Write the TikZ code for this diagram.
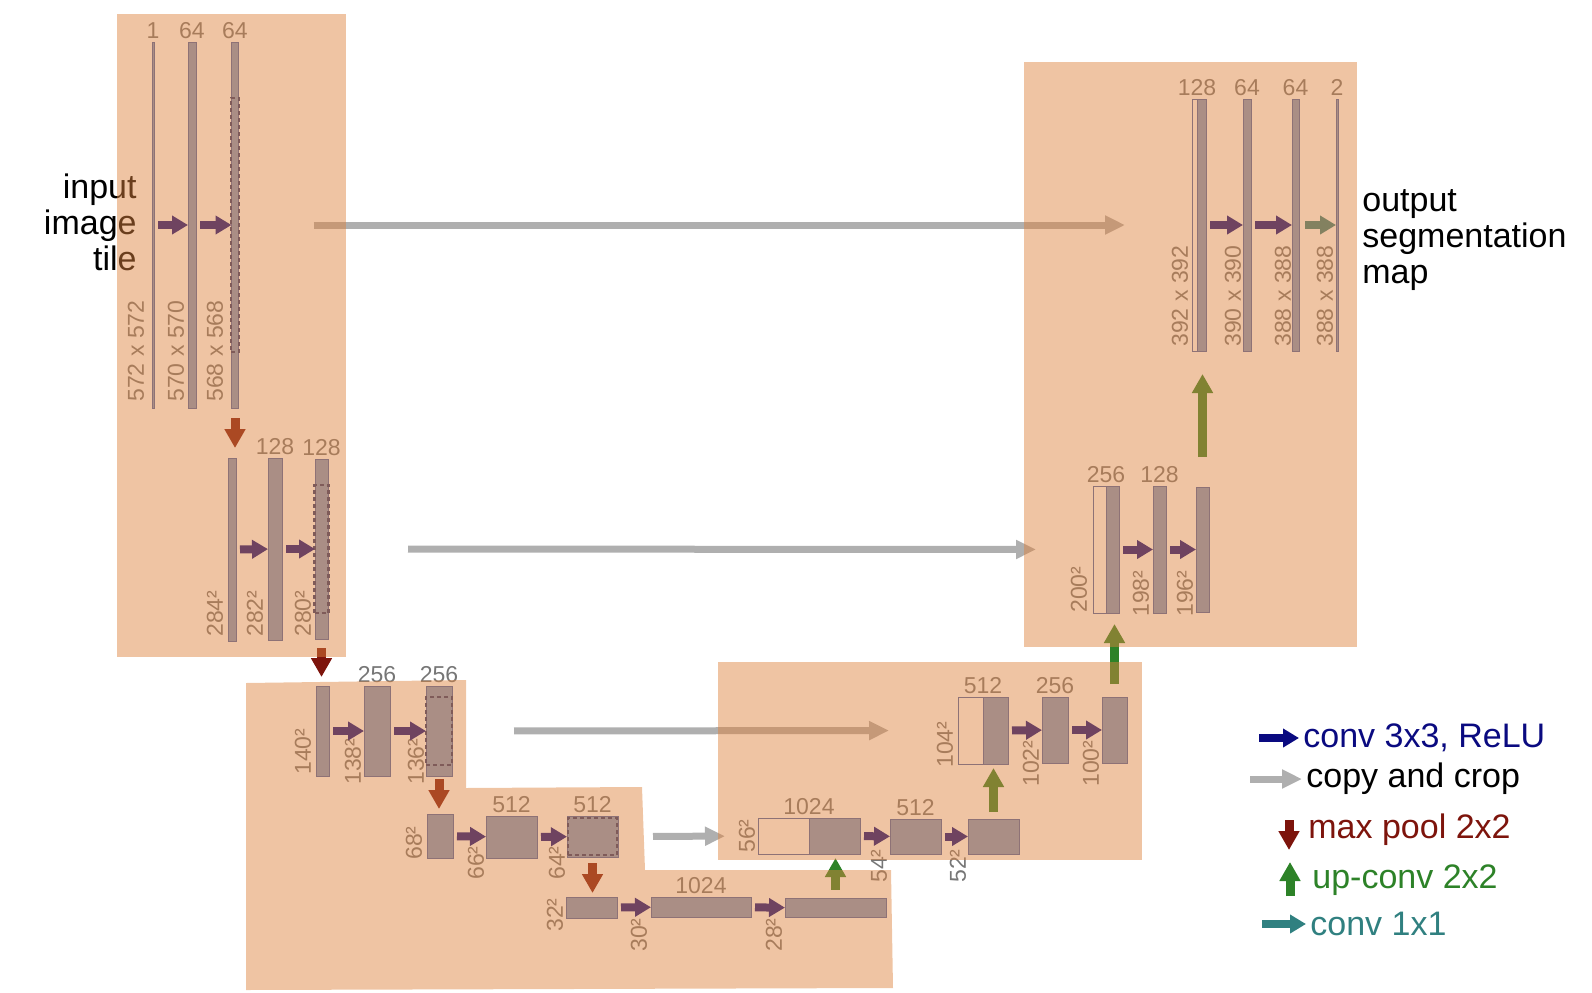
\documentclass[tikz,border=0pt]{standalone}
\usepackage{fontspec}
\setmainfont{Liberation Sans}
\usetikzlibrary{arrows.meta,positioning,calc}

\definecolor{fmapfill}{RGB}{123,154,199}
\definecolor{fmapline}{RGB}{70,100,170}
\definecolor{dashline}{RGB}{40,55,115}
\definecolor{convblue}{RGB}{10,10,128}
\definecolor{copygray}{RGB}{175,175,175}
\definecolor{poolred}{RGB}{125,20,12}
\definecolor{upgreen}{RGB}{45,130,40}
\definecolor{outteal}{RGB}{48,128,128}
\definecolor{numgray}{RGB}{118,118,118}
\definecolor{blocktint}{RGB}{222,131,62}

\begin{document}
\begin{tikzpicture}[x=0.5pt, y=-0.5pt,
    sz/.style 2 args={minimum width=#1*0.5pt, minimum height=#2*0.5pt},
    fmap/.style={draw=fmapline, fill=fmapfill, line width=0.5pt, inner sep=0pt, outer sep=0pt},
    cropbox/.style={draw=fmapline, fill=white, line width=0.5pt, inner sep=0pt, outer sep=0pt},
    dashbox/.style={draw=dashline, dash pattern=on 2pt off 1.5pt, line width=1.2pt, inner sep=0pt, outer sep=0pt},
    chan/.style={text=numgray, font=\fontsize{11.5pt}{13pt}\selectfont, inner sep=0pt},
    dimlbl/.style={chan, rotate=90, anchor=west},
    bigtxt/.style={font=\fontsize{17pt}{18pt}\selectfont, inner sep=0pt},
    legtxt/.style={bigtxt, anchor=west, inner sep=2pt},
    conv/.style={convblue, line width=4pt, -{Triangle[length=8pt, width=9pt]}, shorten <=2pt},
    copyarr/.style={copygray, line width=3.5pt, -{Triangle[length=10pt, width=9pt]}},
    pool/.style={poolred, line width=4.5pt, -{Triangle[length=9.5pt, width=10pt]}},
    upconv/.style={upgreen, line width=4.5pt, -{Triangle[length=9.5pt, width=10pt]}},
    onebyone/.style={outteal, line width=4pt, -{Triangle[length=8pt, width=9pt]}, shorten <=3pt},
    tint/.style={fill=blocktint, fill opacity=0.48},
]
    \useasboundingbox (0,0) rectangle (1592,992);

    % contracting path
    \node[fmap, sz={2}{366}] (in1) at (153,225) {};
    \node[fmap, sz={8}{366}] (c1a) at (192,225) {};
    \node[fmap, sz={7}{366}] (c1b) at (235,225) {};
    \node[dashbox, sz={8}{254}] (c1d) at (235,225) {};
    \node[chan, above=1.5pt of in1] (n1) {1};
    \node[chan, above=1.5pt of c1a] (n1a) {64};
    \node[chan, above=1.5pt of c1b] (n1b) {64};
    \node[dimlbl] (s1) at (136,402) {572 x 572};
    \node[dimlbl] (s1a) at (176,402) {570 x 570};
    \node[dimlbl] (s1b) at (215,402) {568 x 568};
    \node[bigtxt, align=right, anchor=east] (intile) at (137,222) {input\\image\\tile};
    \draw[conv] (in1) -- (c1a);
    \draw[conv] (c1a) -- (c1b);

    \node[fmap, sz={8}{183}] (c2in) at (232,549.5) {};
    \node[fmap, sz={14}{182}] (c2a) at (275,549) {};
    \node[fmap, sz={13}{180}] (c2b) at (321.5,549) {};
    \node[dashbox, sz={14}{128}] (c2d) at (321.5,549) {};
    \node[chan, above=1.5pt of c2a] (n2a) {128};
    \node[chan, above=1.5pt of c2b] (n2b) {128};
    \node[dimlbl] (s2) at (215,637) {284²};
    \node[dimlbl] (s2a) at (255,637) {282²};
    \node[dimlbl] (s2b) at (303,637) {280²};
    \draw[conv] (c2in) -- (c2a);
    \draw[conv] (c2a) -- (c2b);
    \draw[pool, shorten <=5pt, shorten >=5pt] (c1b.south) -- (c1b.south |- c2in.north);

    \node[fmap, sz={13}{90}] (c3in) at (322.5,731) {};
    \node[fmap, sz={26}{90}] (c3a) at (377,731) {};
    \node[fmap, sz={26}{90}] (c3b) at (439,731) {};
    \node[dashbox, sz={26}{68}] (c3d) at (439,731) {};
    \node[chan, above=1.5pt of c3a] (n3a) {256};
    \node[chan, above=1.5pt of c3b] (n3b) {256};
    \node[dimlbl] (s3) at (303,775) {140²};
    \node[dimlbl] (s3a) at (353,785) {138²};
    \node[dimlbl] (s3b) at (416,785) {136²};
    \draw[conv] (c3in) -- (c3a);
    \draw[conv] (c3a) -- (c3b);
    \draw[pool, shorten <=4.5pt, shorten >=4.5pt] (c2b.south) -- (c2b.south |- c3in.north);

    \node[fmap, sz={26}{44}] (c4in) at (440,836) {};
    \node[fmap, sz={51}{42}] (c4a) at (511.5,837) {};
    \node[fmap, sz={51}{41}] (c4b) at (592.5,836.5) {};
    \node[dashbox, sz={49}{37}] (c4d) at (592.5,836.5) {};
    \node[chan, above=1.5pt of c4a] (n4a) {512};
    \node[chan, above=1.5pt of c4b] (n4b) {512};
    \node[dimlbl] (s4) at (414,860) {68²};
    \node[dimlbl] (s4a) at (476,880) {66²};
    \node[dimlbl] (s4b) at (557,880) {64²};
    \draw[conv] (c4in) -- (c4a);
    \draw[conv] (c4a) -- (c4b);
    \draw[pool, shorten <=1.5pt, shorten >=2.5pt] (c3b.south) -- (c3b.south |- c4in.north);

    % bottom
    \node[fmap, sz={51}{21}] (c5in) at (591.5,907.5) {};
    \node[fmap, sz={100}{20}] (c5a) at (701,907) {};
    \node[fmap, sz={101}{19}] (c5b) at (835.5,908) {};
    \node[chan, above=1.5pt of c5a] (n5a) {1024};
    \node[dimlbl] (s5) at (555,932) {32²};
    \node[dimlbl] (s5a) at (639,952) {30²};
    \node[dimlbl] (s5b) at (774,952) {28²};
    \draw[conv] (c5in) -- (c5a);
    \draw[conv] (c5a) -- (c5b);
    \draw[pool, shorten <=3pt, shorten >=2pt] (c4b.south) -- (c4b.south |- c5in.north);

    % expansive path
    \node[cropbox, sz={51}{36}] (u4cp) at (783.5,836) {};
    \node[fmap, sz={51}{36}] (u4up) at (834.5,836) {};
    \node[fmap, sz={51}{35}] (u4a) at (915.5,836.5) {};
    \node[fmap, sz={51}{35}] (u4b) at (993.5,836.5) {};
    \node[chan, above=1.5pt of u4cp.north east] (m4) {1024};
    \node[chan, above=1.5pt of u4a] (m4a) {512};
    \node[dimlbl] (t4) at (747,853) {56²};
    \node[dimlbl] (t4a) at (879,883) {54²};
    \node[dimlbl] (t4b) at (958,883) {52²};
    \draw[conv] (u4up) -- (u4a);
    \draw[conv] (u4a) -- (u4b);
    \draw[upconv, shorten <=4.5pt, shorten >=2pt] (c5b.north) -- (c5b.north |- u4up.south);

    \node[cropbox, sz={25}{67}] (u3cp) at (970.5,730.5) {};
    \node[fmap, sz={25}{67}] (u3up) at (995.5,730.5) {};
    \node[fmap, sz={26}{66}] (u3a) at (1055,730) {};
    \node[fmap, sz={25}{66}] (u3b) at (1114.5,730) {};
    \node[chan, above=1.5pt of u3cp.north east] (m3) {512};
    \node[chan, above=1.5pt of u3a] (m3a) {256};
    \node[dimlbl] (t3) at (945,768) {104²};
    \node[dimlbl] (t3a) at (1031,787) {102²};
    \node[dimlbl] (t3b) at (1091,787) {100²};
    \draw[conv] (u3up) -- (u3a);
    \draw[conv] (u3a) -- (u3b);
    \draw[upconv, shorten <=3.5pt, shorten >=2pt] (u4b.north) -- (u4b.north |- u3up.south);

    \node[cropbox, sz={13}{127}] (u2cp) at (1099.5,549.5) {};
    \node[fmap, sz={13}{127}] (u2up) at (1112.5,549.5) {};
    \node[fmap, sz={13}{127}] (u2a) at (1159.5,549.5) {};
    \node[fmap, sz={13}{125}] (u2b) at (1202.5,549.5) {};
    \node[chan, above=1.5pt of u2cp.north east] (m2) {256};
    \node[chan, above=1.5pt of u2a] (m2a) {128};
    \node[dimlbl] (t2) at (1079,613) {200²};
    \node[dimlbl] (t2a) at (1141,617) {198²};
    \node[dimlbl] (t2b) at (1185,617) {196²};
    \draw[conv] (u2up) -- (u2a);
    \draw[conv] (u2a) -- (u2b);
    \draw[upconv, shorten <=6.5pt, shorten >=5.5pt] (u3b.north) -- (u3b.north |- u2up.south);

    \node[cropbox, sz={5}{252}] (u1cp) at (1194.5,225) {};
    \node[fmap, sz={9}{252}] (u1up) at (1201.5,225) {};
    \node[fmap, sz={8}{252}] (u1a) at (1247,225) {};
    \node[fmap, sz={7}{252}] (u1b) at (1295.5,225) {};
    \node[fmap, sz={2}{252}] (out1) at (1337,225) {};
    \node[chan, above=1.5pt of u1cp.north east] (m1) {128};
    \node[chan, above=1.5pt of u1a] (m1a) {64};
    \node[chan, above=1.5pt of u1b] (m1b) {64};
    \node[chan, above=1.5pt of out1] (m1o) {2};
    \node[dimlbl] (t1) at (1180,347) {392 x 392};
    \node[dimlbl] (t1a) at (1233,347) {390 x 390};
    \node[dimlbl] (t1b) at (1283,347) {388 x 388};
    \node[dimlbl] (t1o) at (1325,347) {388 x 388};
    \node[bigtxt, align=left, anchor=west] (outmap) at (1362,240) {output\\segmentation\\map};
    \draw[conv] (u1up) -- (u1a);
    \draw[conv] (u1a) -- (u1b);
    \draw[onebyone] (u1b) -- (out1);
    \draw[upconv, shorten <=15pt, shorten >=11.5pt] (u2b.north) -- (u2b.north |- u1up.south);

    % copy and crop
    \draw[copyarr, shorten <=37.5pt, shorten >=33.5pt] (c1b) -- (u1cp);
    \draw[copyarr, shorten <=40pt, shorten >=28.5pt] (c2b) -- (u2cp);
    \draw[copyarr, shorten <=31pt, shorten >=34.5pt] (c3b) -- (u3cp);
    \draw[copyarr, shorten <=17.5pt, shorten >=16.5pt] (c4b) -- (u4cp);

    % legend
    \node[legtxt, text=convblue] (lg1) at (1299,738) {conv 3x3, ReLU};
    \node[legtxt, text=black] (lg2) at (1302,779) {copy and crop};
    \node[legtxt, text=poolred] (lg3) at (1304,830) {max pool 2x2};
    \node[legtxt, text=upgreen] (lg4) at (1308,880) {up-conv 2x2};
    \node[legtxt, text=outteal] (lg5) at (1306,924) {conv 1x1};
    \coordinate (lg1s) at (1259,738);
    \coordinate (lg2s) at (1250,779);
    \coordinate (lg3s) at (1289,820);
    \coordinate (lg3e) at (1289,850);
    \coordinate (lg4s) at (1290,896);
    \coordinate (lg4e) at (1290,862);
    \coordinate (lg5s) at (1262,924);
    \draw[conv, shorten <=0pt] (lg1s) -- (lg1.west);
    \draw[copyarr] (lg2s) -- (lg2.west);
    \draw[pool] (lg3s) -- (lg3e);
    \draw[upconv] (lg4s) -- (lg4e);
    \draw[onebyone, shorten <=0pt] (lg5s) -- (lg5.west);

    % shaded blocks laid over the network
    \fill[tint] (117,14) rectangle (346,657);
    \fill[tint] (1024,62) rectangle (1357,647);
    \fill[tint] (718,662) rectangle (1142,860);
    \fill[tint] (246,683) -- (466,680) -- (466,788) -- (642,787) -- (645,870)
        -- (891,870) -- (893,988) -- (246,990) -- cycle;
\end{tikzpicture}
\end{document}
